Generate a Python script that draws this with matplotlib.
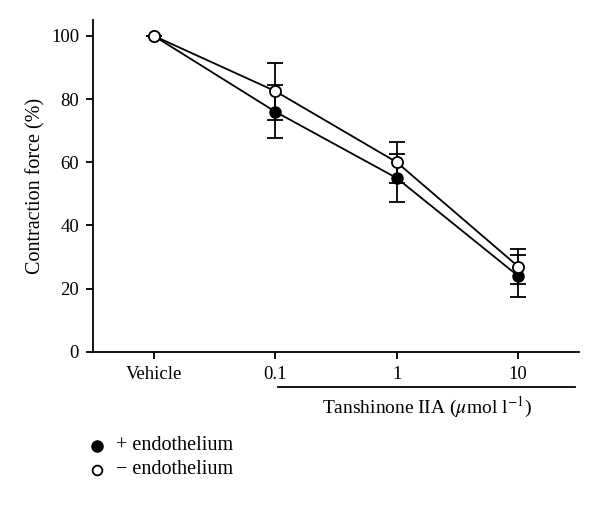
import numpy as np
import matplotlib.pyplot as plt

plt.rcParams['font.family'] = ['Liberation Serif', 'DejaVu Serif']
plt.rcParams['mathtext.fontset'] = 'stix'

# Datos
categorias = ["Vehicle", "0.1", "1", "10"]
con_endotelio = [100, 76, 55, 24]
con_endotelio_err = [0, 8.3, 7.5, 6.6]
sin_endotelio = [100, 82.5, 60, 27]
sin_endotelio_err = [0, 9, 6.5, 5.5]

x = np.arange(len(categorias))

fig = plt.figure(figsize=(6, 5.13), dpi=100)
ax = fig.add_axes([0.155, 0.314, 0.81, 0.647])

ax.errorbar(x, con_endotelio, yerr=con_endotelio_err, color="black", lw=1.3,
            marker="o", ms=8, mfc="black", mec="black", capsize=6, capthick=1.3,
            elinewidth=1.3, zorder=3)
ax.errorbar(x, sin_endotelio, yerr=sin_endotelio_err, color="black", lw=1.3,
            marker="o", ms=8, mfc="white", mec="black", mew=1.3, capsize=6,
            capthick=1.3, elinewidth=1.3, zorder=4)

ax.set_xlim(-0.5, 3.5)
ax.set_ylim(0, 105)
ax.set_yticks([0, 20, 40, 60, 80, 100])
ax.set_xticks(x)
ax.set_xticklabels(categorias)
ax.tick_params(labelsize=13.5, width=1.3, length=5, direction="out", pad=5)
for s in ["top", "right"]:
    ax.spines[s].set_visible(False)
for s in ["left", "bottom"]:
    ax.spines[s].set_linewidth(1.3)
ax.spines["left"].set_bounds(0, 105)
ax.set_ylabel("Contraction force (%)", fontsize=14.5, labelpad=4)

# Linea de concentraciones
ax.plot([1.02, 3.47], [-11, -11], color="black", lw=1.3, clip_on=False)
ax.text(2.25, -13.5, r"Tanshinone IIA ($\mu$mol l$^{-1}$)", fontsize=14,
        ha="center", va="top")

# Leyenda
fig.lines.append(plt.Line2D([97 / 600], [1 - 446 / 513], marker="o", ms=8,
                            mfc="black", mec="black", transform=fig.transFigure))
fig.lines.append(plt.Line2D([97 / 600], [1 - 470 / 513], marker="o", ms=7,
                            mfc="white", mec="black", mew=1.3,
                            transform=fig.transFigure))
fig.text(116 / 600, 1 - 446 / 513, "+ endothelium", fontsize=14.5, va="center")
fig.text(116 / 600, 1 - 470 / 513, "\u2212 endothelium", fontsize=14.5, va="center")

plt.savefig("out.png", dpi=100)
